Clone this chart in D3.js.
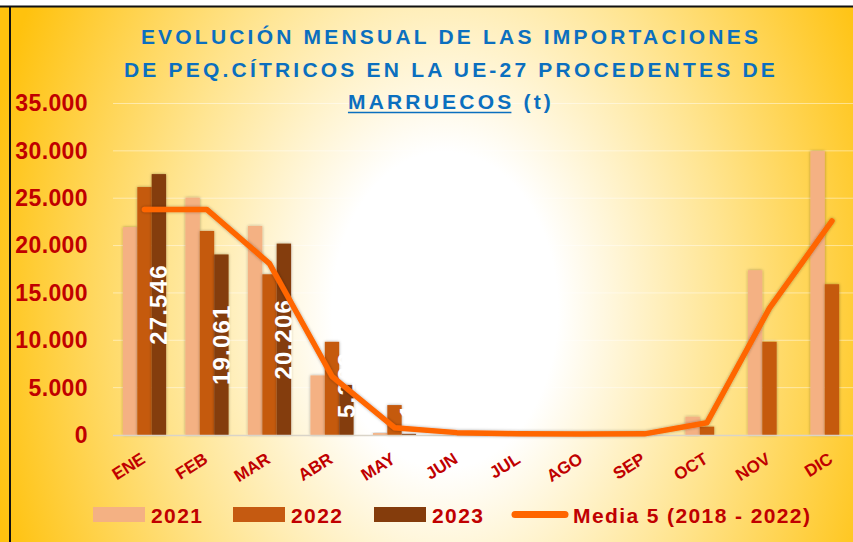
<!DOCTYPE html>
<html>
<head>
<meta charset="utf-8">
<style>
  body { margin: 0; background: #fff; }
  svg { display: block; font-family: "Liberation Sans", Arial, sans-serif; }
</style>
<script src="https://cdn.jsdelivr.net/npm/d3@7"></script>
</head>
<body>
<div id="chart"></div>
<script>
// data (toneladas)
const months = ["ENE", "FEB", "MAR", "ABR", "MAY", "JUN", "JUL", "AGO", "SEP", "OCT", "NOV", "DIC"];
const series = ["2021", "2022", "2023"];
const v2021 = [21950, 25060, 22070, 6290, 200, 0, 0, 0, 0, 1930, 17400, 29980];
const v2022 = [26180, 21540, 16970, 9840, 3160, 0, 0, 0, 0, 880, 9840, 15920];
const v2023 = [27546, 19061, 20206, 5282, 120, null, null, null, null, null, null, null];
const media5 = [23800, 23800, 18100, 6200, 770, 250, 120, 100, 120, 1300, 13400, 22600];
const yTicks = [0, 5000, 10000, 15000, 20000, 25000, 30000, 35000];
const lineLabel = "Media 5 (2018 - 2022)";
const titleLines = ["EVOLUCIÓN MENSUAL DE LAS IMPORTACIONES", "DE PEQ.CÍTRICOS EN LA UE-27 PROCEDENTES DE"];

const colors = { "2021": "#F4B183", "2022": "#C55A11", "2023": "#843C0C" };
const lineColor = "#FF6600";
const red = "#C00000";

const W = 853, H = 542;
const es = d3.formatLocale({ decimal: ",", thousands: ".", grouping: [3], currency: ["", " €"] });
const fmt = es.format(",d");

const svg = d3.select("#chart").append("svg").attr("width", W).attr("height", H);
const defs = svg.append("defs");

const bg = defs.append("radialGradient").attr("id", "bg")
  .attr("gradientUnits", "userSpaceOnUse")
  .attr("cx", 445).attr("cy", 310).attr("r", 470)
  .attr("gradientTransform", "translate(445,310) scale(1,1.4) translate(-445,-310)");
bg.append("stop").attr("offset", 0).attr("stop-color", "#ffffff");
bg.append("stop").attr("offset", 0.24).attr("stop-color", "#ffffff");
bg.append("stop").attr("offset", 0.6).attr("stop-color", "#FFE48F");
bg.append("stop").attr("offset", 1).attr("stop-color", "#FFC20E");

const sh = defs.append("filter").attr("id", "shadow")
  .attr("x", "-50%").attr("y", "-10%").attr("width", "200%").attr("height", "120%");
sh.append("feDropShadow").attr("dx", 0).attr("dy", 0).attr("stdDeviation", 1.6)
  .attr("flood-color", "#000").attr("flood-opacity", 0.35);

// frame
svg.append("rect").attr("x", 0).attr("y", 6).attr("width", W).attr("height", H - 6).attr("fill", "url(#bg)");
svg.append("line").attr("x1", 0).attr("x2", W).attr("y1", 6.5).attr("y2", 6.5).attr("stroke", "#111").attr("stroke-width", 2);
svg.append("line").attr("x1", 10).attr("x2", 10).attr("y1", 6).attr("y2", H).attr("stroke", "#111").attr("stroke-width", 2);

// scales
const x0 = d3.scaleBand().domain(months).range([113.25, 863.25]);
const groupW = x0.bandwidth() * 0.69;
const x1 = d3.scaleBand().domain(series).range([0, groupW]);
const y = d3.scaleLinear().domain([0, 35000]).range([435, 103.5]);

// grid
svg.append("g").selectAll("line").data(yTicks.slice(1)).enter().append("line")
  .attr("x1", 113).attr("x2", W)
  .attr("y1", d => y(d)).attr("y2", d => y(d))
  .attr("stroke", "#ffffff").attr("stroke-opacity", 0.45).attr("stroke-width", 1);

// y axis labels
const yAxis = svg.append("g").attr("transform", "translate(88,0)")
  .call(d3.axisLeft(y).tickValues(yTicks).tickFormat(fmt).tickSize(0).tickPadding(0));
yAxis.select(".domain").remove();
yAxis.selectAll("text")
  .attr("fill", red).attr("font-size", 23).attr("font-weight", "bold")
  .attr("letter-spacing", 0.4)
  .attr("font-family", "Liberation Sans, Arial, sans-serif");

// bars
const rows = months.map((m, i) => ({ m, vals: { "2021": v2021[i], "2022": v2022[i], "2023": v2023[i] } }));
const groups = svg.append("g").selectAll("g").data(rows).enter().append("g")
  .attr("transform", d => "translate(" + (x0(d.m) + (x0.bandwidth() - groupW) / 2) + ",0)");

groups.selectAll("rect")
  .data(d => series.map(s => ({ s, v: d.vals[s] })).filter(e => e.v))
  .enter().append("rect")
  .attr("x", d => x1(d.s))
  .attr("y", d => y(d.v))
  .attr("width", x1.bandwidth())
  .attr("height", d => y(0) - y(d.v))
  .attr("fill", d => colors[d.s])
  .attr("filter", "url(#shadow)");

// baseline
svg.append("line").attr("x1", 113).attr("x2", W).attr("y1", y(0) + 0.5).attr("y2", y(0) + 0.5)
  .attr("stroke", "#d9d4c8").attr("stroke-width", 1.5);

// data labels of 2023, rotated inside the bars
const labelSize = 24;
const lab = svg.append("g").selectAll("text")
  .data(rows.filter(d => d.vals["2023"])).enter().append("text")
  .attr("fill", "#ffffff").attr("font-size", labelSize).attr("font-weight", "bold")
  .attr("letter-spacing", 1.2)
  .attr("text-anchor", "middle")
  .attr("dy", "0.35em")
  .text(d => fmt(d.vals["2023"]));
lab.attr("transform", function (d) {
  const len = this.getComputedTextLength();
  const cx = x0(d.m) + (x0.bandwidth() - groupW) / 2 + x1("2023") + x1.bandwidth() / 2;
  const mid = Math.min((y(d.vals["2023"]) + y(0)) / 2, 418 - len / 2);
  return "translate(" + cx + "," + mid + ") rotate(-90)";
});

// line series
const line = d3.line().x((d, i) => x0(months[i]) + x0.bandwidth() / 2).y(d => y(d));
svg.append("path").datum(media5)
  .attr("d", line)
  .attr("fill", "none").attr("stroke", lineColor).attr("stroke-width", 5.5)
  .attr("stroke-linejoin", "round").attr("stroke-linecap", "round")
  .attr("filter", "url(#shadow)");

// x labels
svg.append("g").selectAll("text").data(months).enter().append("text")
  .attr("transform", d => "translate(" + (x0(d) + x0.bandwidth() / 2 + 2) + ",462) rotate(-32)")
  .attr("text-anchor", "end")
  .attr("fill", red).attr("font-size", 17).attr("font-weight", "bold")
  .text(d => d);

// title
const title = svg.append("g").attr("fill", "#0B6FBF").attr("font-weight", "bold").attr("font-size", 21)
  .attr("text-anchor", "middle").attr("letter-spacing", 3.2);
title.selectAll("text.tl").data(titleLines).enter().append("text")
  .attr("class", "tl")
  .attr("x", 451).attr("y", (d, i) => 44 + i * 32.5)
  .text(d => d);
const t3 = title.append("text").attr("x", 451).attr("y", 109);
t3.append("tspan").text("MARRUECOS");
t3.append("tspan").text(" (t)");
const ext0 = t3.node().getExtentOfChar(0);
const ext8 = t3.node().getExtentOfChar(8);
title.append("line")
  .attr("x1", ext0.x).attr("x2", ext8.x + ext8.width - 3)
  .attr("y1", 112.5).attr("y2", 112.5)
  .attr("stroke", "#0B6FBF").attr("stroke-width", 1.6);

// legend
const legend = svg.append("g").attr("font-weight", "bold").attr("font-size", 21).attr("letter-spacing", 1.4);
const legX = [93, 233, 374];
series.forEach((s, i) => {
  legend.append("rect").attr("x", legX[i]).attr("y", 507).attr("width", 52).attr("height", 15).attr("fill", colors[s]);
  legend.append("text").attr("x", legX[i] + 58).attr("y", 523).attr("fill", red).text(s);
});
legend.append("line").attr("x1", 515).attr("x2", 565).attr("y1", 514.5).attr("y2", 514.5)
  .attr("stroke", lineColor).attr("stroke-width", 7).attr("stroke-linecap", "round");
legend.append("text").attr("x", 573).attr("y", 523).attr("fill", red).text(lineLabel);
</script>
</body>
</html>
